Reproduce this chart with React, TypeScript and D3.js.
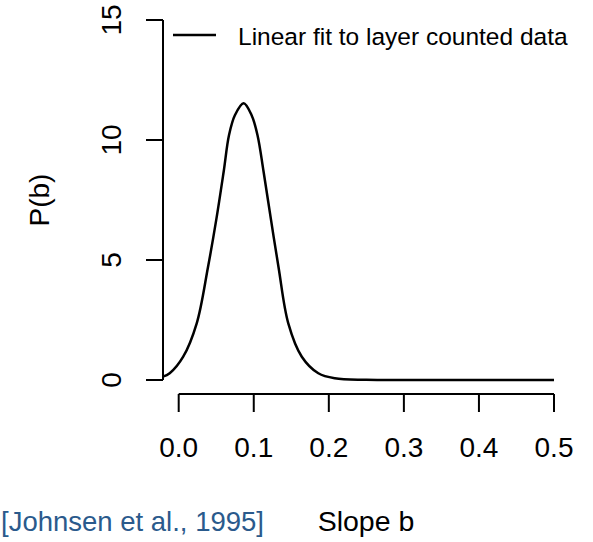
import * as d3 from 'd3';
import React, { useEffect, useRef } from 'react';

// points
const slopeB = [-0.021, -0.012, 0.006, 0.024, 0.039, 0.05, 0.06, 0.067, 0.075, 0.0865, 0.097, 0.105, 0.113, 0.123, 0.133, 0.146, 0.164, 0.186, 0.208, 0.25, 0.3, 0.4, 0.5];
const probB = [0.14, 0.28, 0.97, 2.36, 4.7, 6.67, 8.7, 10.2, 11.04, 11.53, 11.04, 10.2, 8.7, 6.67, 4.7, 2.36, 0.97, 0.28, 0.07, 0.01, 0.0, 0.0, 0.0];
const xTicks = [0, 0.1, 0.2, 0.3, 0.4, 0.5];
const yTicks = [0, 5, 10, 15];
const legendLabel = 'Linear fit to layer counted data';
const citation = '[Johnsen et al., 1995]';

const W = 593;
const H = 542;
const FONT = '"Liberation Sans", Arial, Helvetica, sans-serif';

export default function App() {
    const ref = useRef<SVGSVGElement | null>(null);

    useEffect(() => {
        const svg = d3.select(ref.current);
        svg.selectAll('*').remove();

        const x = d3.scaleLinear().domain([0, 0.5]).range([178.7, 554]);
        const y = d3.scaleLinear().domain([0, 15]).range([380, 20]);

        // y axis (R style, ticks to the left)
        const ya = svg.append('g');
        ya.append('line')
            .attr('x1', 163).attr('x2', 163)
            .attr('y1', y(0)).attr('y2', y(15))
            .attr('stroke', '#000').attr('stroke-width', 2);
        ya.selectAll('line.tick').data(yTicks).enter().append('line')
            .attr('class', 'tick')
            .attr('x1', 146).attr('x2', 163)
            .attr('y1', d => y(d)).attr('y2', d => y(d))
            .attr('stroke', '#000').attr('stroke-width', 2);
        ya.selectAll('text').data(yTicks).enter().append('text')
            .attr('transform', d => 'translate(121,' + y(d) + ') rotate(-90)')
            .attr('text-anchor', 'middle')
            .attr('font-family', FONT).attr('font-size', 28)
            .text(d => String(d));

        // x axis, offset below the plot
        const xa = svg.append('g');
        xa.append('line')
            .attr('x1', x(0)).attr('x2', x(0.5))
            .attr('y1', 394).attr('y2', 394)
            .attr('stroke', '#000').attr('stroke-width', 2);
        xa.selectAll('line.tick').data(xTicks).enter().append('line')
            .attr('class', 'tick')
            .attr('x1', d => x(d)).attr('x2', d => x(d))
            .attr('y1', 394).attr('y2', 412)
            .attr('stroke', '#000').attr('stroke-width', 2);
        xa.selectAll('text').data(xTicks).enter().append('text')
            .attr('x', d => x(d)).attr('y', 457)
            .attr('text-anchor', 'middle')
            .attr('font-family', FONT).attr('font-size', 28)
            .text(d => d3.format('.1f')(d));

        // density curve
        const pts = slopeB.map((b, i) => [b, probB[i]] as [number, number]);
        const line = d3.line<[number, number]>()
            .x(d => x(d[0]))
            .y(d => y(d[1]))
            .curve(d3.curveCatmullRom.alpha(0.5));
        svg.append('path')
            .attr('d', line(pts) || '')
            .attr('fill', 'none')
            .attr('stroke', '#000')
            .attr('stroke-width', 2.5)
            .attr('stroke-linejoin', 'round');

        // legend
        svg.append('line')
            .attr('x1', 173).attr('x2', 216)
            .attr('y1', 35).attr('y2', 35)
            .attr('stroke', '#000').attr('stroke-width', 2.5);
        svg.append('text')
            .attr('x', 238).attr('y', 45)
            .attr('font-family', FONT).attr('font-size', 24.5)
            .text(legendLabel);

        // axis titles
        svg.append('text')
            .attr('transform', 'translate(49,200) rotate(-90)')
            .attr('text-anchor', 'middle')
            .attr('font-family', FONT).attr('font-size', 28)
            .text('P(b)');
        svg.append('text')
            .attr('x', 366).attr('y', 531)
            .attr('text-anchor', 'middle')
            .attr('font-family', FONT).attr('font-size', 28.5)
            .text('Slope b');

        svg.append('text')
            .attr('x', 1).attr('y', 531)
            .attr('fill', '#2a5a8c')
            .attr('font-family', FONT).attr('font-size', 27.5)
            .text(citation);
    }, []);

    return (
        <svg ref={ref} width={W} height={H}
            style={{ position: 'absolute', left: 0, top: 0, background: '#fff' }} />
    );
}
